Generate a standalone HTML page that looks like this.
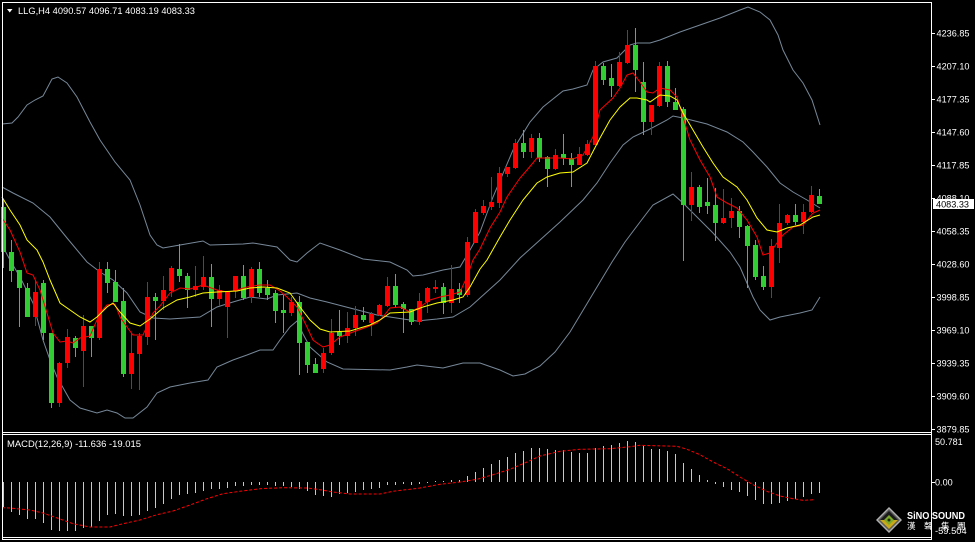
<!DOCTYPE html>
<html>
<head>
<meta charset="utf-8">
<style>
html,body{margin:0;padding:0;background:#000;}
body{width:975px;height:542px;overflow:hidden;}
svg{display:block;}
text{font-family:"Liberation Sans","Noto Sans CJK SC",sans-serif;fill:#fff;}
</style>
</head>
<body>
<svg width="975" height="542" viewBox="0 0 975 542" xmlns="http://www.w3.org/2000/svg">
<rect x="0" y="0" width="975" height="542" fill="#000"/>

<!-- Bollinger bands -->
<g fill="none" stroke="#778899" stroke-width="1">
<polyline points="2,124 12,123 18,117 27,105 35,100 43,96 52,79 58,77 67,83 77,97 90,122 100,140 115,162 130,180 140,205 150,235 157,245 163,248 180,245 203,241 210,245 243,244 253,243 277,247 290,260 297,262 307,253 320,243 340,250 363,259 390,262 407,270 413,276 423,275 443,270 460,267 470,250 480,232 493,197 513,150 530,122 543,107 563,91 573,89 587,85 593,70 603,62 617,58 630,45 637,43 650,43 660,40 680,32 700,25 720,18 740,10 748,7 760,12 770,20 778,35 783,50 793,70 803,83 812,100 820,125"/>
<polyline points="2,187 13,193 33,203 50,217 67,238 87,262 100,272 113,280 127,293 140,312 153,318 170,319 200,317 217,307 233,302 250,297 267,299 277,295 297,293 310,298 327,302 350,308 377,315 403,319 417,321 437,319 453,317 470,307 480,298 500,280 520,258 540,240 560,222 583,200 597,183 610,163 623,145 633,137 650,129 667,120 673,116 683,118 707,124 727,132 743,142 753,152 767,167 780,183 793,192 807,200 820,208"/>
<polyline points="2,245 10,260 20,277 33,303 43,340 50,360 57,377 70,400 80,408 97,413 107,410 117,413 125,418 133,418 147,407 157,393 170,387 190,383 208,380 217,367 233,360 247,355 260,350 273,350 280,340 290,327 297,321 303,334 310,347 327,362 343,369 390,370 407,367 417,365 443,368 463,363 480,363 500,370 513,376 525,374 540,366 555,352 570,332 585,307 600,282 612,262 625,242 640,222 653,205 673,194 683,203 697,217 713,233 730,252 740,267 753,297 760,310 770,320 780,317 800,313 812,310 820,297"/>
</g>

<!-- Candles -->
<path shape-rendering="crispEdges" fill="#ff0000" d="M35 280h1V326h-1z M33 292h5V317h-5z M59 362h1V407h-1z M57 363h5V403h-5z M67 329h1V368h-1z M65 337h5V363h-5z M83 315h1V387h-1z M81 326h5V351h-5z M99 262h1V340h-1z M97 269h5V338h-5z M131 333h1V389h-1z M129 353h5V374h-5z M139 333h1V390h-1z M137 336h5V354h-5z M147 282h1V345h-1z M145 297h5V337h-5z M163 276h1V310h-1z M161 290h5V301h-5z M171 266h1V297h-1z M169 268h5V291h-5z M195 266h1V297h-1z M193 286h5V290h-5z M203 256h1V290h-1z M201 277h5V287h-5z M219 285h1V306h-1z M217 290h5V299h-5z M227 291h1V338h-1z M225 291h5V307h-5z M235 276h1V298h-1z M233 276h5V291h-5z M251 267h1V303h-1z M249 269h5V297h-5z M291 297h1V316h-1z M289 302h5V313h-5z M323 348h1V373h-1z M321 353h5V369h-5z M331 319h1V355h-1z M329 333h5V353h-5z M347 312h1V343h-1z M345 328h5V336h-5z M355 306h1V336h-1z M353 315h5V328h-5z M371 312h1V336h-1z M369 314h5V323h-5z M379 304h1V316h-1z M377 305h5V315h-5z M387 277h1V307h-1z M385 286h5V306h-5z M419 293h1V325h-1z M417 301h5V322h-5z M427 287h1V313h-1z M425 288h5V302h-5z M435 280h1V293h-1z M433 287h5V289h-5z M451 265h1V313h-1z M449 289h5V303h-5z M467 237h1V297h-1z M465 242h5V295h-5z M475 209h1V243h-1z M473 212h5V243h-5z M483 200h1V215h-1z M481 206h5V213h-5z M491 177h1V210h-1z M489 202h5V207h-5z M499 167h1V208h-1z M497 173h5V203h-5z M507 167h1V177h-1z M505 167h5V174h-5z M515 139h1V169h-1z M513 143h5V168h-5z M531 134h1V158h-1z M529 138h5V152h-5z M555 149h1V170h-1z M553 155h5V169h-5z M579 147h1V165h-1z M577 154h5V165h-5z M587 140h1V156h-1z M585 144h5V155h-5z M595 61h1V145h-1z M593 66h5V145h-5z M619 52h1V87h-1z M617 62h5V86h-5z M627 30h1V64h-1z M625 45h5V63h-5z M651 105h1V135h-1z M649 105h5V122h-5z M659 62h1V107h-1z M657 66h5V106h-5z M691 172h1V221h-1z M689 187h5V205h-5z M723 189h1V224h-1z M721 218h5V223h-5z M731 198h1V228h-1z M729 211h5V218h-5z M771 239h1V298h-1z M769 246h5V287h-5z M779 204h1V263h-1z M777 223h5V248h-5z M787 214h1V225h-1z M785 215h5V223h-5z M803 204h1V234h-1z M801 212h5V222h-5z M811 186h1V213h-1z M809 195h5V212h-5z"/>
<path shape-rendering="crispEdges" fill="#32cd32" d="M3 200h1V268h-1z M1 207h5V252h-5z M11 240h1V282h-1z M9 252h5V271h-5z M19 270h1V327h-1z M17 270h5V288h-5z M27 283h1V317h-1z M25 288h5V317h-5z M43 280h1V340h-1z M41 283h5V333h-5z M51 333h1V408h-1z M49 333h5V403h-5z M75 336h1V357h-1z M73 338h5V348h-5z M91 326h1V357h-1z M89 326h5V338h-5z M107 262h1V293h-1z M105 269h5V283h-5z M115 270h1V302h-1z M113 282h5V302h-5z M123 288h1V377h-1z M121 301h5V374h-5z M155 293h1V340h-1z M153 297h5V301h-5z M179 244h1V282h-1z M177 269h5V276h-5z M187 273h1V308h-1z M185 276h5V290h-5z M211 264h1V327h-1z M209 277h5V299h-5z M243 265h1V300h-1z M241 276h5V298h-5z M259 262h1V297h-1z M257 269h5V293h-5z M267 280h1V300h-1z M265 288h5V295h-5z M275 290h1V323h-1z M273 293h5V311h-5z M283 295h1V333h-1z M281 310h5V313h-5z M299 296h1V375h-1z M297 302h5V343h-5z M307 342h1V373h-1z M305 342h5V365h-5z M315 358h1V373h-1z M313 364h5V373h-5z M339 310h1V345h-1z M337 332h5V336h-5z M363 307h1V322h-1z M361 315h5V320h-5z M395 274h1V307h-1z M393 286h5V305h-5z M403 302h1V333h-1z M401 304h5V309h-5z M411 309h1V325h-1z M409 309h5V322h-5z M443 283h1V314h-1z M441 287h5V303h-5z M459 283h1V303h-1z M457 289h5V295h-5z M523 130h1V158h-1z M521 143h5V152h-5z M539 133h1V162h-1z M537 138h5V158h-5z M547 156h1V187h-1z M545 157h5V169h-5z M563 134h1V165h-1z M561 154h5V158h-5z M571 153h1V187h-1z M569 158h5V165h-5z M603 63h1V85h-1z M601 66h5V80h-5z M611 64h1V97h-1z M609 78h5V86h-5z M635 28h1V92h-1z M633 45h5V70h-5z M643 62h1V135h-1z M641 82h5V122h-5z M667 61h1V107h-1z M665 66h5V102h-5z M675 88h1V110h-1z M673 102h5V110h-5z M683 107h1V261h-1z M681 109h5V205h-5z M699 185h1V213h-1z M697 187h5V207h-5z M707 178h1V214h-1z M705 202h5V206h-5z M715 188h1V241h-1z M713 205h5V223h-5z M739 206h1V238h-1z M737 211h5V227h-5z M747 225h1V288h-1z M745 226h5V246h-5z M755 240h1V280h-1z M753 245h5V277h-5z M763 266h1V290h-1z M761 276h5V287h-5z M795 204h1V225h-1z M793 215h5V222h-5z M819 189h1V204h-1z M817 196h5V204h-5z"/>

<!-- Moving averages -->
<polyline fill="none" stroke="#ff0000" stroke-width="1" points="2,218 10,230 20,252 27,273 33,275 40,290 47,313 53,333 60,342 67,341 73,343 80,338 90,336 100,313 107,305 115,304 120,317 127,327 133,335 143,335 153,313 160,306 170,293 180,288 190,289 203,285 217,290 227,292 233,291 247,287 260,285 270,285 280,291 287,297 297,307 307,327 313,340 317,343 323,347 330,345 340,337 353,332 367,327 377,323 383,317 390,308 400,307 410,312 420,307 430,300 440,297 450,295 460,292 467,277 473,260 480,249 490,228 500,212 507,197 520,178 527,170 537,158 547,158 560,158 573,159 583,155 593,137 600,110 613,98 620,88 627,75 633,73 640,82 647,92 653,93 660,88 670,90 677,97 683,117 690,140 700,160 710,177 717,197 727,203 737,208 747,220 757,237 763,255 770,253 777,243 783,235 793,227 803,225 813,213 820,210"/>
<polyline fill="none" stroke="#ffff00" stroke-width="1" points="2,197 10,210 20,225 27,240 37,250 43,262 50,280 60,303 70,310 80,317 90,322 97,317 107,307 113,303 120,312 130,323 140,326 150,319 163,308 177,300 190,297 203,293 217,292 237,291 250,288 263,287 277,288 290,293 300,307 310,320 320,329 330,332 350,331 370,325 380,320 390,313 410,312 423,307 437,303 453,300 463,297 470,287 480,269 487,260 500,237 510,220 523,200 537,183 547,177 560,173 573,172 587,163 600,138 610,120 620,107 630,98 637,98 647,100 650,102 660,95 670,96 677,100 683,113 693,130 703,147 713,163 723,177 737,187 747,200 757,218 767,230 777,232 787,228 800,225 813,217 820,215"/>

<!-- MACD histogram -->
<path shape-rendering="crispEdges" fill="#c8c8c8" d="M3 482h1V507h-1z M11 482h1V512h-1z M19 482h1V515h-1z M27 482h1V519h-1z M35 482h1V519h-1z M43 482h1V523h-1z M51 482h1V530h-1z M59 482h1V531h-1z M67 482h1V531h-1z M75 482h1V531h-1z M83 482h1V528h-1z M91 482h1V527h-1z M99 482h1V521h-1z M107 482h1V515h-1z M115 482h1V514h-1z M123 482h1V516h-1z M131 482h1V516h-1z M139 482h1V515h-1z M147 482h1V511h-1z M155 482h1V508h-1z M163 482h1V504h-1z M171 482h1V499h-1z M179 482h1V495h-1z M187 482h1V494h-1z M195 482h1V493h-1z M203 482h1V491h-1z M211 482h1V489h-1z M219 482h1V489h-1z M227 482h1V488h-1z M235 482h1V486h-1z M243 482h1V486h-1z M251 482h1V485h-1z M259 482h1V485h-1z M267 482h1V485h-1z M275 482h1V486h-1z M283 482h1V486h-1z M291 482h1V487h-1z M299 482h1V489h-1z M307 482h1V491h-1z M315 482h1V495h-1z M323 482h1V496h-1z M331 482h1V497h-1z M339 482h1V494h-1z M347 482h1V493h-1z M355 482h1V492h-1z M363 482h1V490h-1z M371 482h1V489h-1z M379 482h1V488h-1z M387 482h1V485h-1z M395 482h1V485h-1z M403 482h1V484h-1z M411 482h1V485h-1z M419 482h1V484h-1z M427 482h1V483h-1z M435 481h1V482h-1z M443 481h1V482h-1z M451 480h1V482h-1z M459 480h1V482h-1z M467 476h1V482h-1z M475 472h1V482h-1z M483 468h1V482h-1z M491 464h1V482h-1z M499 460h1V482h-1z M507 457h1V482h-1z M515 453h1V482h-1z M523 451h1V482h-1z M531 448h1V482h-1z M539 448h1V482h-1z M547 449h1V482h-1z M555 450h1V482h-1z M563 450h1V482h-1z M571 452h1V482h-1z M579 453h1V482h-1z M587 453h1V482h-1z M595 448h1V482h-1z M603 446h1V482h-1z M611 445h1V482h-1z M619 443h1V482h-1z M627 441h1V482h-1z M635 442h1V482h-1z M643 446h1V482h-1z M651 449h1V482h-1z M659 449h1V482h-1z M667 451h1V482h-1z M675 454h1V482h-1z M683 463h1V482h-1z M691 469h1V482h-1z M699 475h1V482h-1z M707 480h1V482h-1z M715 482h1V484h-1z M723 482h1V487h-1z M731 482h1V490h-1z M739 482h1V492h-1z M747 482h1V496h-1z M755 482h1V500h-1z M763 482h1V504h-1z M771 482h1V504h-1z M779 482h1V503h-1z M787 482h1V501h-1z M795 482h1V499h-1z M803 482h1V497h-1z M811 482h1V494h-1z M819 482h1V493h-1z"/>
<!-- MACD signal -->
<polyline fill="none" stroke="#ff0000" stroke-width="1" stroke-dasharray="3 2" points="2,507.7 10,508 30,510 43,513 60,519 73,523.7 90,527 110,527 123,523.7 140,520 157,514.7 173,511 190,505 207,498.7 223,493.7 240,491.3 260,488.7 283,487.7 307,488 320,489.7 333,492 350,494 380,494 393,491.3 420,488 440,484.3 460,482 477,479.3 493,474.7 510,469.3 527,462 540,456 560,451.3 580,449.3 610,448.7 630,446.7 640,445.3 677,446.3 687,449.3 700,454.7 713,462 727,468.7 740,477 753,484.7 767,491.3 780,496 793,498.7 803,500.3 815,499.7"/>

<!-- Frame -->
<g shape-rendering="crispEdges" fill="#ffffff">
<rect x="2" y="2" width="930" height="1"/>
<rect x="2" y="2" width="1" height="538"/>
<rect x="931" y="2" width="1" height="538"/>
<rect x="2" y="432" width="930" height="1"/>
<rect x="2" y="434" width="930" height="1"/>
<rect x="2" y="537" width="930" height="1"/>
<rect x="2" y="539" width="930" height="1"/>
<!-- ticks -->
<rect x="931" y="33" width="4" height="1"/>
<rect x="931" y="66" width="4" height="1"/>
<rect x="931" y="99" width="4" height="1"/>
<rect x="931" y="132" width="4" height="1"/>
<rect x="931" y="165" width="4" height="1"/>
<rect x="931" y="198" width="4" height="1"/>
<rect x="931" y="231" width="4" height="1"/>
<rect x="931" y="264" width="4" height="1"/>
<rect x="931" y="297" width="4" height="1"/>
<rect x="931" y="330" width="4" height="1"/>
<rect x="931" y="363" width="4" height="1"/>
<rect x="931" y="396" width="4" height="1"/>
<rect x="931" y="429" width="4" height="1"/>
<rect x="931" y="482" width="4" height="1"/>
</g>

<!-- Header -->
<polygon points="7,9 12.5,9 9.75,12.5" fill="#fff"/>
<text x="18" y="14" font-size="9.5" textLength="177" lengthAdjust="spacingAndGlyphs">LLG,H4  4090.57 4096.71 4083.19 4083.33</text>

<!-- Price axis labels -->
<g font-size="9.5">
<text x="936.5" y="36.7" textLength="33" lengthAdjust="spacingAndGlyphs">4236.85</text>
<text x="936.5" y="69.7" textLength="33" lengthAdjust="spacingAndGlyphs">4207.10</text>
<text x="936.5" y="102.7" textLength="33" lengthAdjust="spacingAndGlyphs">4177.35</text>
<text x="936.5" y="135.7" textLength="33" lengthAdjust="spacingAndGlyphs">4147.60</text>
<text x="936.5" y="168.7" textLength="33" lengthAdjust="spacingAndGlyphs">4117.85</text>
<text x="936.5" y="201.7" textLength="33" lengthAdjust="spacingAndGlyphs">4088.10</text>
<text x="936.5" y="234.7" textLength="33" lengthAdjust="spacingAndGlyphs">4058.35</text>
<text x="936.5" y="267.7" textLength="33" lengthAdjust="spacingAndGlyphs">4028.60</text>
<text x="936.5" y="300.7" textLength="33" lengthAdjust="spacingAndGlyphs">3998.85</text>
<text x="936.5" y="333.7" textLength="33" lengthAdjust="spacingAndGlyphs">3969.10</text>
<text x="936.5" y="366.7" textLength="33" lengthAdjust="spacingAndGlyphs">3939.35</text>
<text x="936.5" y="399.7" textLength="33" lengthAdjust="spacingAndGlyphs">3909.60</text>
<text x="936.5" y="432.7" textLength="33" lengthAdjust="spacingAndGlyphs">3879.85</text>
</g>
<!-- Current price box -->
<rect x="933" y="199" width="41" height="10" fill="#fff" shape-rendering="crispEdges"/>
<text x="936" y="207.3" font-size="9.5" textLength="33" lengthAdjust="spacingAndGlyphs" style="fill:#000">4083.33</text>

<!-- MACD labels -->
<text x="7" y="447" font-size="9.5" textLength="134" lengthAdjust="spacingAndGlyphs">MACD(12,26,9) -11.636 -19.015</text>
<text x="935" y="445" font-size="9.5" textLength="27.7" lengthAdjust="spacingAndGlyphs">50.781</text>
<text x="935" y="485.7" font-size="9.5" textLength="17.7" lengthAdjust="spacingAndGlyphs">0.00</text>
<text x="935" y="534" font-size="9.5" textLength="31.7" lengthAdjust="spacingAndGlyphs">-59.504</text>

<!-- Logo -->
<polygon points="889,507 902,520 889,533 876,520" fill="#b0b0b0"/>
<polygon points="889,509 900,520 889,531 878,520" fill="#5a5a5a"/>
<polygon points="889,511 898,520 889,529 880,520" fill="#1a1a1a"/>
<polygon points="880,520 898,520 889,529" fill="#c8a818"/>
<polygon points="889,515 894,520 889,525 884,520" fill="#7aa828"/>
<circle cx="889" cy="520" r="1.5" fill="#203010"/>
<text x="907" y="519" font-size="10" font-weight="bold" textLength="58" lengthAdjust="spacingAndGlyphs">SiNO SOUND</text>
<g font-size="8.5" font-family="'Noto Sans CJK TC','Noto Sans CJK SC',sans-serif">
<text x="907" y="529">漢</text>
<text x="924" y="529">聲</text>
<text x="941" y="529">集</text>
<text x="957" y="529">團</text>
</g>
</svg>
</body>
</html>
